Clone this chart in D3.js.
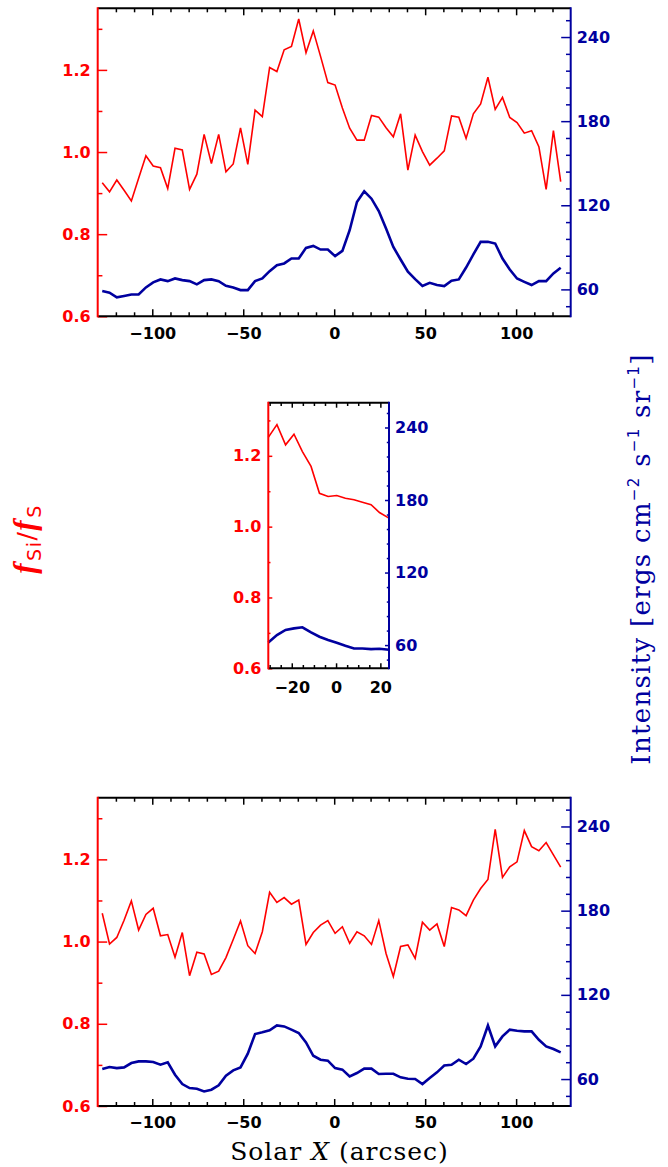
<!DOCTYPE html>
<html>
<head>
<meta charset="utf-8">
<script src="https://cdn.jsdelivr.net/npm/d3@7"></script>
<style>
    body { margin: 0; background: #fff; }
    svg { display: block; }
    .tick text { font-family: "DejaVu Sans", sans-serif; font-weight: bold; font-size: 16px; }
</style>
</head>
<body>
<div id="chart"></div>
<script>
// Solar X positions (arcsec) of the full scans, top and bottom panels
const x_full = [-127.5, -123.5, -119.5, -115.5, -111.5, -107.5, -103.5, -99.5, -95.5, -91.5,
    -87.5, -83.5, -79.5, -75.5, -71.5, -67.5, -63.5, -59.5, -55.5, -51.5,
    -47.5, -43.5, -39.5, -35.5, -31.5, -27.5, -23.5, -19.5, -15.5, -11.5,
    -7.5, -3.5, 0.5, 4.5, 8.5, 12.5, 16.5, 20.5, 24.5, 28.5,
    32.5, 36.5, 40.5, 44.5, 48.5, 52.5, 56.5, 60.5, 64.5, 68.5,
    72.5, 76.5, 80.5, 84.5, 88.5, 92.5, 96.5, 100.5, 104.5, 108.5,
    112.5, 116.5, 120.5, 124.5];

// top panel
const ratio_top = [0.925, 0.903, 0.932, 0.907, 0.881, 0.936, 0.991, 0.966, 0.962, 0.911,
    1.009, 1.005, 0.909, 0.946, 1.043, 0.972, 1.043, 0.952, 0.971, 1.059,
    0.970, 1.102, 1.086, 1.206, 1.196, 1.249, 1.257, 1.324, 1.242, 1.295,
    1.233, 1.169, 1.163, 1.107, 1.058, 1.029, 1.029, 1.089, 1.085, 1.059,
    1.037, 1.093, 0.956, 1.041, 1.001, 0.968, 0.985, 1.003, 1.088, 1.085,
    1.033, 1.093, 1.117, 1.182, 1.104, 1.133, 1.084, 1.072, 1.046, 1.052,
    1.013, 0.909, 1.052, 0.928];
const intensity_top = [58.8, 57.6, 54.3, 55.3, 56.4, 56.4, 61.4, 65.0, 67.1, 65.9,
    67.8, 66.6, 65.9, 63.6, 66.6, 67.1, 65.9, 62.6, 61.4, 59.5,
    59.5, 65.9, 67.8, 73.0, 77.3, 78.5, 82.0, 82.0, 89.6, 91.0,
    88.4, 88.4, 83.7, 87.5, 102.2, 122.3, 129.9, 124.7, 115.9, 103.4,
    90.3, 81.3, 72.6, 67.3, 62.4, 64.7, 63.1, 62.4, 66.2, 67.1,
    75.6, 84.9, 93.9, 93.9, 92.7, 82.0, 74.2, 67.8, 65.4, 63.1,
    65.9, 65.9, 71.4, 75.4];

// middle (zoomed) panel
const x_zoom = [-30.6, -26.7, -22.8, -19.0, -15.2, -11.3, -7.5, -3.6, 0.3, 4.2,
    8.1, 11.9, 15.8, 19.6, 23.9];
const ratio_zoom = [1.252, 1.288, 1.231, 1.261, 1.212, 1.170, 1.094, 1.085, 1.088, 1.080,
    1.076, 1.069, 1.062, 1.040, 1.024];
const intensity_zoom = [62.2, 68.3, 72.5, 73.8, 74.7, 70.5, 66.9, 64.2, 61.9, 59.4,
    57.2, 57.2, 56.7, 57.0, 56.1];

// bottom panel
const ratio_bottom = [1.069, 0.994, 1.010, 1.052, 1.099, 1.028, 1.066, 1.081, 1.014, 1.017,
    0.962, 1.022, 0.917, 0.974, 0.970, 0.920, 0.928, 0.961, 1.005, 1.050,
    0.990, 0.971, 1.024, 1.120, 1.095, 1.107, 1.091, 1.101, 0.993, 1.022,
    1.040, 1.051, 1.020, 1.036, 0.996, 1.024, 1.014, 0.993, 1.051, 0.971,
    0.915, 0.988, 0.992, 0.959, 1.047, 1.028, 1.043, 0.988, 1.083, 1.077,
    1.063, 1.101, 1.129, 1.151, 1.273, 1.156, 1.182, 1.194, 1.270, 1.231,
    1.221, 1.241, 1.211, 1.181];
const intensity_bottom = [67.1, 68.6, 67.8, 68.3, 71.4, 72.6, 72.6, 72.1, 70.2, 71.9,
    63.1, 56.4, 53.6, 53.1, 51.2, 52.4, 55.5, 62.4, 66.2, 68.3,
    78.1, 92.1, 93.3, 94.7, 98.2, 97.5, 95.2, 92.8, 86.1, 76.6,
    73.8, 73.1, 67.8, 66.7, 61.9, 64.3, 67.4, 67.4, 63.6, 63.8,
    63.8, 61.2, 60.2, 60.0, 56.4, 60.7, 64.8, 69.7, 70.2, 73.8,
    70.7, 74.5, 83.3, 98.2, 83.3, 90.4, 95.2, 94.4, 94.0, 94.0,
    88.0, 83.3, 81.4, 79.0];

// ticks
const x_major_full = [-100, -50, 0, 50, 100];
const x_minor_full = [-120, -110, -90, -80, -70, -60, -40, -30, -20, -10,
    10, 20, 30, 40, 60, 70, 80, 90, 110, 120];
const x_major_zoom = [-20, 0, 20];
const x_minor_zoom = [-30, -25, -15, -10, -5, 5, 10, 15];
const ratio_major = [0.6, 0.8, 1.0, 1.2];
const ratio_minor = [0.7, 0.9, 1.1, 1.3];
const intensity_major = [60, 120, 180, 240];
const intensity_minor = [48, 72, 84, 96, 108, 132, 144, 156, 168, 192, 204, 216, 228, 252];

const ratio_domain = [0.6, 1.35];
const intensity_domain = [40.8, 260.5];

const red = "#ff0000";
const blue = "#00009f";

class dualPanel {

    constructor(svg, box, x_domain) {
        this.svg = svg;
        this.box = box;
        this.x_scale = d3.scaleLinear().domain(x_domain).range([box.left, box.right]);
        this.y_left = d3.scaleLinear().domain(ratio_domain).range([box.bottom, box.top]);
        this.y_right = d3.scaleLinear().domain(intensity_domain).range([box.bottom, box.top]);
    }

    drawLines(xs, ratio, intensity) {
        let line_left = d3.line()
            .x((d, i) => this.x_scale(xs[i]))
            .y(d => this.y_left(d));
        let line_right = d3.line()
            .x((d, i) => this.x_scale(xs[i]))
            .y(d => this.y_right(d));

        this.svg.append("path")
            .attr("fill", "none").attr("stroke", blue)
            .attr("stroke-width", 2.6)
            .attr("d", line_right(intensity));

        this.svg.append("path")
            .attr("fill", "none").attr("stroke", red)
            .attr("stroke-width", 1.6)
            .attr("d", line_left(ratio));
    }

    _axis(axis_fn, scale, values, size, padding, fmt, color, translate) {
        this.svg.append("g")
            .attr("transform", translate)
            .attr("color", color)
            .call(axis_fn(scale)
                .tickValues(values)
                .tickSize(-size)
                .tickPadding(padding)
                .tickFormat(fmt))
            .call(g => g.select(".domain").remove())
            .call(g => g.selectAll(".tick line").attr("stroke-width", 1.5));
    }

    drawXAxes(major, minor, len_major, len_minor, padding) {
        let b = this.box;
        let fmt = d3.format("");
        this._axis(d3.axisBottom, this.x_scale, major, len_major, padding, fmt, "#000", `translate(0,${b.bottom})`);
        this._axis(d3.axisBottom, this.x_scale, minor, len_minor, 0, "", "#000", `translate(0,${b.bottom})`);
        this._axis(d3.axisTop, this.x_scale, major, len_major, 0, "", "#000", `translate(0,${b.top})`);
        this._axis(d3.axisTop, this.x_scale, minor, len_minor, 0, "", "#000", `translate(0,${b.top})`);
    }

    drawYAxes(len_major, len_minor) {
        let b = this.box;
        this._axis(d3.axisLeft, this.y_left, ratio_major, len_major, 7, d3.format(".1f"), red, `translate(${b.left},0)`);
        this._axis(d3.axisLeft, this.y_left, ratio_minor, len_minor, 0, "", red, `translate(${b.left},0)`);
        this._axis(d3.axisRight, this.y_right, intensity_major, len_major, 6, d3.format("d"), blue, `translate(${b.right},0)`);
        this._axis(d3.axisRight, this.y_right, intensity_minor, len_minor, 0, "", blue, `translate(${b.right},0)`);
    }

    drawFrame() {
        let b = this.box;
        let edge = (x1, y1, x2, y2, color) => this.svg.append("line")
            .attr("x1", x1).attr("y1", y1).attr("x2", x2).attr("y2", y2)
            .attr("stroke", color).attr("stroke-width", 2);
        edge(b.left, b.top, b.right, b.top, "#000");
        edge(b.left, b.bottom, b.right, b.bottom, "#000");
        edge(b.left, b.top - 1, b.left, b.bottom + 1, red);
        edge(b.right, b.top - 1, b.right, b.bottom + 1, blue);
    }
}

const svg = d3.select("#chart").append("svg")
    .attr("width", 668)
    .attr("height", 1167);

let top_panel = new dualPanel(svg, {left: 97.7, right: 570.7, top: 8.3, bottom: 316.3}, [-130, 130]);
top_panel.drawLines(x_full, ratio_top, intensity_top);
top_panel.drawXAxes(x_major_full, x_minor_full, 7, 4, 11);
top_panel.drawYAxes(9.5, 4.7);
top_panel.drawFrame();

let zoom_panel = new dualPanel(svg, {left: 268.3, right: 389, top: 402.7, bottom: 668.3}, [-30.6, 23.9]);
zoom_panel.drawLines(x_zoom, ratio_zoom, intensity_zoom);
zoom_panel.drawXAxes(x_major_zoom, x_minor_zoom, 5, 3.3, 13.5);
zoom_panel.drawYAxes(4, 2.2);
zoom_panel.drawFrame();

let bottom_panel = new dualPanel(svg, {left: 97.7, right: 570.7, top: 797.7, bottom: 1106}, [-130, 130]);
bottom_panel.drawLines(x_full, ratio_bottom, intensity_bottom);
bottom_panel.drawXAxes(x_major_full, x_minor_full, 7, 4, 11);
bottom_panel.drawYAxes(9.5, 4.7);
bottom_panel.drawFrame();

// x title
let x_title = svg.append("text")
    .attr("transform", "translate(339.5,1160)")
    .attr("text-anchor", "middle")
    .attr("font-family", "DejaVu Serif")
    .attr("font-size", 25)
    .attr("letter-spacing", 1)
    .attr("fill", "#000");
x_title.append("tspan").text("Solar ");
x_title.append("tspan").attr("font-style", "italic").text("X");
x_title.append("tspan").text(" (arcsec)");

// left title  f_Si / f_S
let y_left_title = svg.append("text")
    .attr("transform", "translate(35,539) rotate(-90)")
    .attr("text-anchor", "middle")
    .attr("letter-spacing", 1.5)
    .attr("fill", red);
y_left_title.append("tspan")
    .attr("font-family", "Liberation Serif").attr("font-style", "italic")
    .attr("font-weight", "bold").attr("font-size", 31).text("f");
y_left_title.append("tspan")
    .attr("font-family", "DejaVu Sans").attr("font-size", 19)
    .attr("dx", 1).attr("dy", 6).text("Si");
y_left_title.append("tspan")
    .attr("font-family", "DejaVu Sans").attr("font-size", 25)
    .attr("dy", -6).text("/");
y_left_title.append("tspan")
    .attr("font-family", "Liberation Serif").attr("font-style", "italic")
    .attr("font-weight", "bold").attr("font-size", 31).text("f");
y_left_title.append("tspan")
    .attr("font-family", "DejaVu Sans").attr("font-size", 19)
    .attr("dx", 1).attr("dy", 6).text("S");

// right title
let y_right_title = svg.append("text")
    .attr("transform", "translate(650,559) rotate(-90)")
    .attr("text-anchor", "middle")
    .attr("font-family", "DejaVu Serif")
    .attr("font-size", 26)
    .attr("letter-spacing", 1.3)
    .attr("fill", blue);
let sup = (txt) => y_right_title.append("tspan")
    .attr("font-family", "DejaVu Sans").attr("font-size", 15)
    .attr("dy", -11).text(txt);
let normal = (txt) => y_right_title.append("tspan")
    .attr("dy", 11).text(txt);
y_right_title.append("tspan").text("Intensity [ergs cm");
sup("\u22122");
normal(" s");
sup("\u22121");
normal(" sr");
sup("\u22121");
normal("]");
</script>
</body>
</html>
